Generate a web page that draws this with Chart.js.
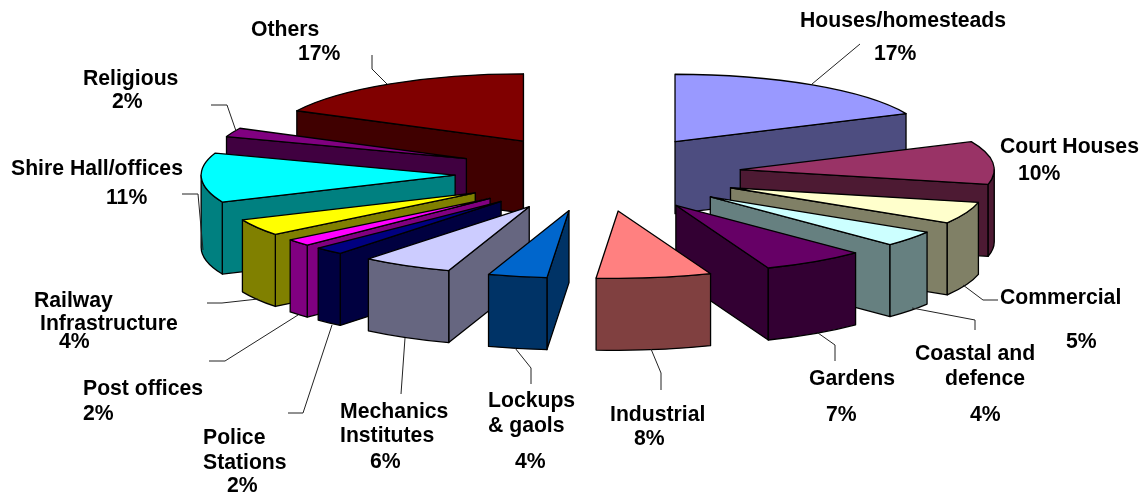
<!DOCTYPE html>
<html><head><meta charset="utf-8">
<style>html,body{margin:0;padding:0;background:#fff}canvas{display:block}</style>
<script src="https://cdn.jsdelivr.net/npm/chart.js@4"></script></head>
<body><canvas id="c" width="1142" height="493"></canvas>
<script>
const categories = ['Houses/homesteads','Court Houses','Commercial','Coastal and defence','Gardens','Industrial','Lockups & gaols','Mechanics Institutes','Police Stations','Post offices','Railway Infrastructure','Shire Hall/offices','Religious','Others'];
const shares = [17.1,9.8,5.2,3.9,7.2,8.4,4.3,6.4,2,1.7,4.1,11.4,2,16.5];
const colours = ['#9999FF','#993366','#FFFFCC','#CCFFFF','#660066','#FF8080','#0066CC','#CCCCFF','#000080','#FF00FF','#FFFF00','#00FFFF','#800080','#800000'];

// Label text: [text, left, baseline]
const labelLines = [
 ['Others',251,36],['17%',298,60],
 ['Religious',83,85],['2%',112,108],
 ['Shire Hall/offices',11,175],['11%',106,204],
 ['Railway',34,307],['Infrastructure',40,330],['4%',59,348],
 ['Post offices',83,395],['2%',83,420],
 ['Police',203,444],['Stations',203,469],['2%',227,492],
 ['Mechanics',340,418],['Institutes',340,442],['6%',370,468],
 ['Lockups',488,407],['& gaols',488,432],['4%',515,468],
 ['Industrial',610,421],['8%',634,445],
 ['Gardens',809,385],['7%',826,421],
 ['Coastal and',915,360],['defence',945,385],['4%',970,421],
 ['Commercial',1000,304],['5%',1066,348],
 ['Court Houses',1000,153],['10%',1018,180],
 ['Houses/homesteads',800,27],['17%',874,60]
];
const leaders = [
 [[372,55],[372,69],[387,84]],
 [[211,105],[227,105],[236,131]],
 [[182,194],[198,194],[203,250]],
 [[207,303],[222,303],[258,299]],
 [[209,361],[225,361],[298,315]],
 [[288,413],[303,413],[332,325]],
 [[401,394],[405,338]],
 [[531,384],[531,368],[515,348]],
 [[661,390],[661,373],[651,349]],
 [[835,361],[835,345],[818,333]],
 [[975,330],[975,320],[912,308]],
 [[998,300],[983,300],[963,285]],
 [[860,44],[812,84]]
];

const PIE = {cx:598, cy:173.5, radius:254, squash:0.265, explode:143, depth:72, warp:0.096, warp2:-0.02};
const Y = v => PIE.cy + PIE.squash*(v-PIE.cy);
const half = hex => '#'+[1,3,5].map(i=>Math.round(parseInt(hex.substr(i,2),16)/2).toString(16).padStart(2,'0')).join('');
const warp = a => a + PIE.warp*Math.sin(a+Math.PI/2) + PIE.warp2*Math.sin(2*(a+Math.PI/2));

const pie3d = {
 id:'pie3d',
 afterDatasetsUpdate(chart){
  chart.getDatasetMeta(0).data.forEach(a=>{
   const mid=warp((a.startAngle+a.endAngle)/2);
   a.startAngle=warp(a.startAngle);
   a.endAngle=warp(a.endAngle);
   a.circumference=a.endAngle-a.startAngle;
   a.x=PIE.cx+PIE.explode*Math.cos(mid);
   a.y=PIE.cy+PIE.explode*Math.sin(mid);
  });
 },
 beforeDatasetsDraw(chart){
  const ctx=chart.ctx, arcs=chart.getDatasetMeta(0).data;
  ctx.save();
  ctx.lineWidth=1.3; ctx.strokeStyle='#000'; ctx.lineJoin='round';
  const order=arcs.map((a,i)=>i).sort((p,q)=>Math.sin((arcs[p].startAngle+arcs[p].endAngle)/2)-Math.sin((arcs[q].startAngle+arcs[q].endAngle)/2));
  order.forEach(i=>{
   const a=arcs[i], R=a.outerRadius, s=a.startAngle, e=a.endAngle, cy=Y(a.y), ry=R*PIE.squash, d=PIE.depth;
   ctx.fillStyle=half(colours[i]);
   const radial=t=>{
    const px=a.x+R*Math.cos(t), py=cy+ry*Math.sin(t);
    ctx.beginPath();ctx.moveTo(a.x,cy);ctx.lineTo(px,py);ctx.lineTo(px,py+d);ctx.lineTo(a.x,cy+d);ctx.closePath();ctx.fill();ctx.stroke();
   };
   if(Math.cos(s)<0) radial(s);
   if(Math.cos(e)>0) radial(e);
   const a0=Math.max(s,0), a1=Math.min(e,Math.PI);
   if(a1>a0){
    ctx.beginPath();
    ctx.ellipse(a.x,cy,R,ry,0,a0,a1);
    ctx.ellipse(a.x,cy+d,R,ry,0,a1,a0,true);
    ctx.closePath();ctx.fill();ctx.stroke();
   }
  });
  ctx.restore();
  ctx.save();
  ctx.translate(0,PIE.cy);ctx.scale(1,PIE.squash);ctx.translate(0,-PIE.cy);
 },
 afterDatasetsDraw(chart){
  const ctx=chart.ctx, arcs=chart.getDatasetMeta(0).data;
  ctx.restore();
  ctx.save();
  ctx.lineWidth=1.3; ctx.strokeStyle='#000'; ctx.lineJoin='round';
  arcs.forEach(a=>{
   const cy=Y(a.y);
   ctx.beginPath();ctx.moveTo(a.x,cy);
   ctx.ellipse(a.x,cy,a.outerRadius,a.outerRadius*PIE.squash,0,a.startAngle,a.endAngle);
   ctx.closePath();ctx.stroke();
  });
  ctx.lineWidth=1;ctx.strokeStyle='#222';
  leaders.forEach(l=>{ctx.beginPath();l.forEach((p,i)=>i?ctx.lineTo(p[0],p[1]):ctx.moveTo(p[0],p[1]));ctx.stroke();});
  ctx.fillStyle='#000';ctx.font='bold 21.2px "Liberation Sans"';ctx.textAlign='left';ctx.textBaseline='alphabetic';
  labelLines.forEach(([t,x,y])=>ctx.fillText(t,x,y));
  ctx.restore();
 }
};

new Chart(document.getElementById('c'),{
 type:'pie',
 data:{labels:categories,datasets:[{data:shares,backgroundColor:colours,borderWidth:0,clip:false}]},
 options:{responsive:false,animation:false,events:[],radius:PIE.radius,
  plugins:{legend:{display:false},tooltip:{enabled:false}}},
 plugins:[pie3d]
});
</script></body></html>
